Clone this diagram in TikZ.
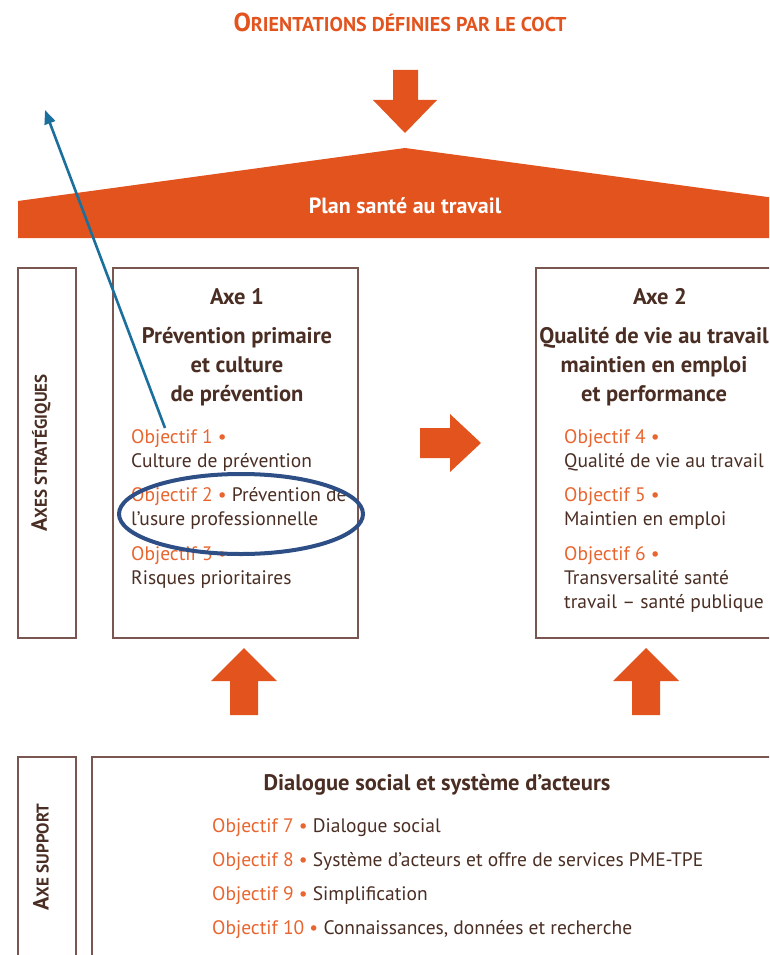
\documentclass[tikz,border=0pt]{standalone}
\usepackage{fontspec}
\setmainfont{PT Sans}
\usetikzlibrary{arrows.meta,shapes.geometric}

\definecolor{planorange}{HTML}{E2531E}
\definecolor{objorange}{HTML}{E8652F}
\definecolor{textbrown}{HTML}{4A2E24}
\definecolor{boxbrown}{HTML}{7A5650}
\definecolor{markblue}{HTML}{1B6F9C}
\definecolor{ringblue}{HTML}{2E4E86}

% fake small caps: big first letter, smaller capitals after it
\newcommand\capsword[3]{{\fontsize{#3}{#3}\selectfont #1}{\fontsize{#3}{#3}\selectfont\fontsize{\numexpr#3*3/4\relax}{#3}\selectfont #2}}
\newcommand\obj[1]{\textcolor{objorange}{Objectif #1 \textbullet}}

\begin{document}
\begin{tikzpicture}[
  x=1pt, y=-1pt,
  every node/.style = {text=textbrown, inner sep=0pt},
  framebox/.style = {draw=boxbrown, line width=1.2pt},
  bigarrow/.style = {fill=planorange, draw=none},
  axetitle/.style = {font=\fontsize{22.5}{29}\selectfont\bfseries, align=center},
  objtext/.style = {font=\fontsize{19.5}{24}\selectfont, align=left, anchor=north west},
  sidelabel/.style = {rotate=90, font=\bfseries}
]
  \clip (0,0) rectangle (769,955);

  % title and arrow into the plan
  \node[text=planorange, font=\bfseries] (coct) at (400,22)
    {\capsword{O}{RIENTATIONS D\'EFINIES PAR LE COCT}{26}};
  \fill[bigarrow] (393,70) -- (418,70) -- (418,100) -- (437,100) -- (405,133)
    -- (373,100) -- (393,100) -- cycle;

  % roof
  \fill[planorange] (18,238) -- (18,201) -- (405,148) -- (775,198) -- (775,238) -- cycle;
  \node[text=white, font=\fontsize{22}{22}\selectfont\bfseries] (plan) at (405,206) {Plan sant\'e au travail};

  % strategic axes
  \draw[framebox] (18,268) rectangle (76,638);
  \node[sidelabel] (axesstrat) at (41,453) {\capsword{A}{XES STRAT\'EGIQUES}{22}};

  \draw[framebox] (113,268) rectangle (358,638);
  \node[axetitle] (axe1) at (237,297) {Axe 1};
  \node[axetitle] (axe1txt) at (237,367) {Pr\'evention primaire\\et culture\\de pr\'evention};
  \node[objtext] (obj1) at (131,429) {\obj{1}\\Culture de pr\'evention};
  \node[objtext] (obj2) at (131,487) {\obj{2} Pr\'evention de\\l'usure professionnelle};
  \node[objtext] (obj3) at (131,546) {\obj{3}\\Risques prioritaires};

  \draw[framebox] (536,268) rectangle (790,638);
  \node[axetitle] (axe2) at (660,297) {Axe 2};
  \node[axetitle] (axe2txt) at (654,367) {Qualit\'e de vie au travail\\maintien en emploi\\et performance};
  \node[objtext] (obj4) at (564,429) {\obj{4}\\Qualit\'e de vie au travail};
  \node[objtext] (obj5) at (564,487) {\obj{5}\\Maintien en emploi};
  \node[objtext] (obj6) at (564,546) {\obj{6}\\Transversalit\'e sant\'e\\travail -- sant\'e publique};

  % arrow axe 1 -> axe 2
  \fill[bigarrow] (420,428) -- (450,428) -- (450,414) -- (481,443) -- (450,472)
    -- (450,458) -- (420,458) -- cycle;

  % arrows from the support axis
  \fill[bigarrow] (230,715) -- (258,715) -- (258,681) -- (277,681) -- (244,648)
    -- (211,681) -- (230,681) -- cycle;
  \fill[bigarrow] (632,715) -- (660,715) -- (660,681) -- (679,681) -- (646,648)
    -- (613,681) -- (632,681) -- cycle;

  % support axis
  \draw[framebox] (18,757) rectangle (76,980);
  \node[sidelabel] (axesupp) at (41,857) {\capsword{A}{XE SUPPORT}{22}};

  \draw[framebox] (92,757) rectangle (790,980);
  \node[axetitle] (dialogue) at (437,785) {Dialogue social et syst\`eme d'acteurs};
  \node[objtext] (obj7) at (212,818) {\obj{7} Dialogue social};
  \node[objtext] (obj8) at (212,852) {\obj{8} Syst\`eme d'acteurs et offre de services PME-TPE};
  \node[objtext] (obj9) at (212,886) {\obj{9} Simplification};
  \node[objtext] (obj10) at (212,920) {\obj{10} Connaissances, donn\'ees et recherche};

  % annotations
  \node[ellipse, draw=ringblue, line width=4pt, minimum width=244pt, minimum height=80pt] (ring) at (241,514) {};
  \coordinate (markfrom) at (165,428);
  \coordinate (markto) at (45,110);
  \draw[markblue, line width=2.6pt, -{Triangle[length=14pt,width=11pt]}] (markfrom) -- (markto);
\end{tikzpicture}
\end{document}
